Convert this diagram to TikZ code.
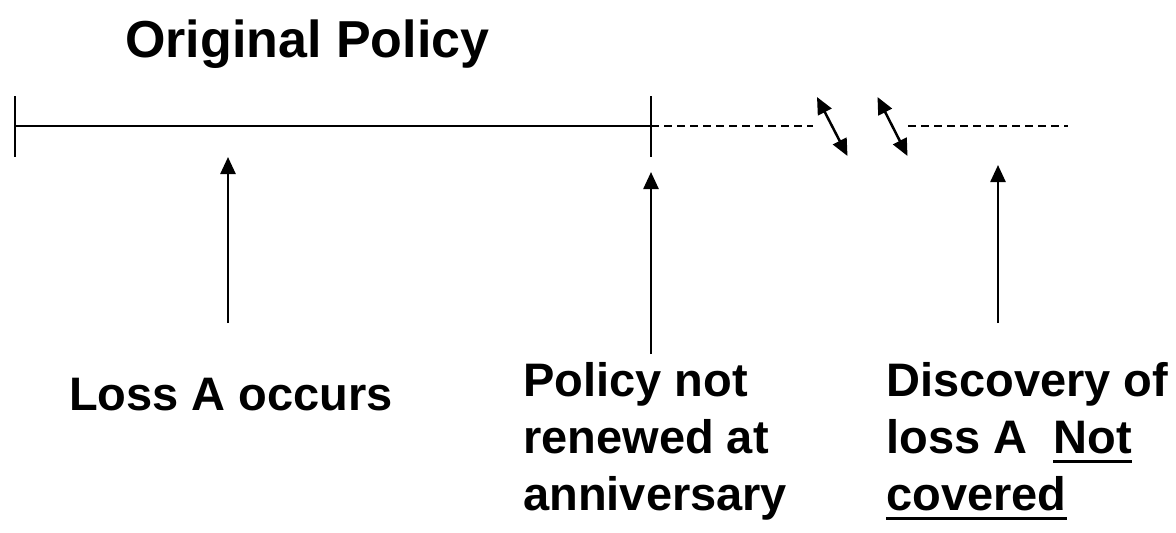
\documentclass[tikz,border=0pt]{standalone}
\usepackage{fontspec}
\setmainfont{Liberation Sans}
\usetikzlibrary{arrows.meta}
\tikzset{
	>={Triangle[length=17pt,width=15pt]},
	txt/.style={font=\fontsize{47}{57}\selectfont\bfseries, inner sep=0pt, align=left},
	gapline/.style={line width=2pt, dash pattern=on 8pt off 5pt}
}
\newsavebox{\ulbox}
\newcommand{\ulword}[1]{\sbox{\ulbox}{#1}\rlap{\rule[-10pt]{\wd\ulbox}{3pt}}\usebox{\ulbox}}

\begin{document}
\begin{tikzpicture}[x=1pt, y=-1pt, line width=2.5pt]
	\useasboundingbox (0,0) rectangle (1176,533);
	\node[txt, font=\fontsize{52}{60}\selectfont\bfseries, anchor=base west] (title) at (124,57) {Original Policy};
	% policy period and what follows it
	\coordinate (start) at (15,126);
	\coordinate (renew) at (651,126);
	\coordinate (gap1) at (813,126);
	\coordinate (gap2) at (908,126);
	\coordinate (end) at (1068,126);
	\draw (start) -- (renew);
	\draw ([yshift=30pt]start) -- ([yshift=-31pt]start);
	\draw ([yshift=30pt]renew) -- ([yshift=-31pt]renew);
	\draw [gapline] (renew) -- (gap1);
	\draw [gapline] (gap2) -- (end);
	% break in the time line
	\draw [<->] (817,97) -- (847.5,156);
	\draw [<->] (877.5,97) -- (907.5,156);
	% events
	\node[txt, anchor=base west] (loss) at (68,410) {Loss A occurs};
	\node[txt, anchor=base west] (lapse) at (522,510) {Policy not\\renewed at\\anniversary};
	\node[txt, anchor=base west] (discovery) at (885,510) {Discovery of\\loss A\ \ \ulword{Not}\\\ulword{covered}};
	\coordinate (loss foot) at (228,323);
	\coordinate (loss tip) at (228,157);
	\coordinate (lapse foot) at (651,354);
	\coordinate (lapse tip) at (651,172);
	\coordinate (find foot) at (998,323);
	\coordinate (find tip) at (998,165);
	\draw [->] (loss foot) -- (loss tip);
	\draw [->] (lapse foot) -- (lapse tip);
	\draw [->] (find foot) -- (find tip);
\end{tikzpicture}
\end{document}
